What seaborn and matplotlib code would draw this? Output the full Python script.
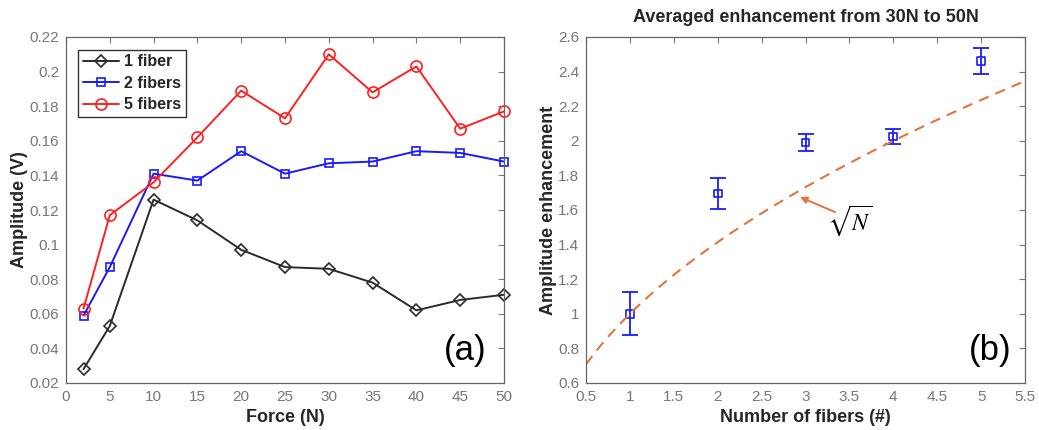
import numpy as np
import pandas as pd
import matplotlib
matplotlib.use("Agg")
import matplotlib.pyplot as plt
from matplotlib.ticker import FuncFormatter, MultipleLocator
import seaborn as sns

# ---- data ----
force = [2, 5, 10, 15, 20, 25, 30, 35, 40, 45, 50]
amp_1fiber = [0.028, 0.053, 0.126, 0.114, 0.097, 0.087, 0.086, 0.078, 0.062, 0.068, 0.071]
amp_2fibers = [0.059, 0.087, 0.141, 0.137, 0.154, 0.141, 0.147, 0.148, 0.154, 0.153, 0.148]
amp_5fibers = [0.063, 0.117, 0.136, 0.162, 0.189, 0.173, 0.210, 0.188, 0.203, 0.167, 0.177]
series_names = ["1 fiber", "2 fibers", "5 fibers"]

n_fibers = [1, 2, 3, 4, 5]
enhancement = [1.0, 1.695, 1.99, 2.025, 2.46]
enh_err = [0.125, 0.09, 0.05, 0.045, 0.075]

sns.set_style("white")
plt.rcParams['font.family'] = ['Liberation Sans', 'DejaVu Sans']

fig = plt.figure(figsize=(10.39, 4.30), dpi=100)
ax1 = fig.add_axes([66/1039, 1 - 383/430, 438/1039, 346/430])
ax2 = fig.add_axes([586/1039, 1 - 383/430, 439/1039, 346/430])

tick_col = '#777777'
gfmt = FuncFormatter(lambda v, p: f"{v:g}")
lab_fs = 13

# ---- left panel ----
df = pd.DataFrame({
    "Force": force * 3,
    "Amplitude": amp_1fiber + amp_2fibers + amp_5fibers,
    "Series": sum([[s] * len(force) for s in series_names], []),
})
palette = {"1 fiber": "#2b2b2b", "2 fibers": "#1a1aff", "5 fibers": "#ff2020"}
markers = {"1 fiber": "D", "2 fibers": "s", "5 fibers": "o"}
msize = {"1 fiber": 6, "2 fibers": 6, "5 fibers": 8}
for s in series_names:
    sub = df[df.Series == s]
    sns.lineplot(data=sub, x="Force", y="Amplitude", ax=ax1, color=palette[s],
                 marker=markers[s], markersize=msize[s], markerfacecolor='none',
                 markeredgecolor=palette[s], markeredgewidth=1.2, linewidth=1.4,
                 label=s, clip_on=False)
ax1.set_xlim(0, 50)
ax1.set_ylim(0.02, 0.22)
ax1.xaxis.set_major_locator(MultipleLocator(5))
ax1.yaxis.set_major_locator(MultipleLocator(0.02))
ax1.yaxis.set_major_formatter(gfmt)
ax1.set_xlabel("Force (N)", fontsize=lab_fs, fontweight='bold', labelpad=4)
ax1.set_ylabel("Amplitude (V)", fontsize=lab_fs, fontweight='bold', labelpad=1)
leg = ax1.legend(loc='upper left', frameon=True, fancybox=False,
                 prop={'weight': 'bold', 'size': 11.5}, handlelength=2.3,
                 borderpad=0.3, labelspacing=0.4, handletextpad=0.3,
                 bbox_to_anchor=(0.02, 0.973), borderaxespad=0.2)
leg.get_frame().set_edgecolor('black')
leg.get_frame().set_linewidth(1.0)
ax1.text(0.961, 0.045, "(a)", transform=ax1.transAxes, fontsize=25,
         ha='right', va='bottom', color='black')

# ---- right panel ----
ax2.errorbar(n_fibers, enhancement, yerr=enh_err, fmt='none', ecolor='#1a1aff',
             elinewidth=1.3, capsize=6, capthick=1.3)
sns.scatterplot(x=n_fibers, y=enhancement, ax=ax2, marker='s', s=30,
                facecolor='none', edgecolor='#1a1aff', linewidth=1.2)
n_curve = np.linspace(0.5, 5.5, 200)
sns.lineplot(x=n_curve, y=np.sqrt(n_curve), ax=ax2, color='#e2743f',
             linestyle=(0, (5, 3.5)), linewidth=1.5)
ax2.annotate("", xy=(2.937, 1.675), xytext=(3.336, 1.588),
             arrowprops=dict(arrowstyle='-|>', color='#e2743f', lw=1.4,
                             mutation_scale=10, shrinkA=0, shrinkB=0))
ax2.text(3.25, 1.536, r"$\sqrt{N}$", fontsize=17, color='black', ha='left', va='center',
         math_fontfamily='stix')
ax2.set_xlim(0.5, 5.5)
ax2.set_ylim(0.6, 2.6)
ax2.xaxis.set_major_locator(MultipleLocator(0.5))
ax2.yaxis.set_major_locator(MultipleLocator(0.2))
ax2.xaxis.set_major_formatter(gfmt)
ax2.yaxis.set_major_formatter(gfmt)
ax2.set_xlabel("Number of fibers (#)", fontsize=lab_fs, fontweight='bold', labelpad=4)
ax2.set_ylabel("Amplitude enhancement", fontsize=lab_fs, fontweight='bold', labelpad=1)
ax2.set_title("Averaged enhancement from 30N to 50N", fontsize=lab_fs, fontweight='bold', pad=11)
ax2.text(0.970, 0.045, "(b)", transform=ax2.transAxes, fontsize=25,
         ha='right', va='bottom', color='black')

for ax in (ax1, ax2):
    ax.tick_params(direction='in', top=True, right=True, length=4, width=0.8,
                   colors=tick_col, labelsize=11, pad=5)
    for sp in ax.spines.values():
        sp.set_visible(True)
        sp.set_color('#666666')
        sp.set_linewidth(0.9)

fig.savefig("out.png", dpi=100)
